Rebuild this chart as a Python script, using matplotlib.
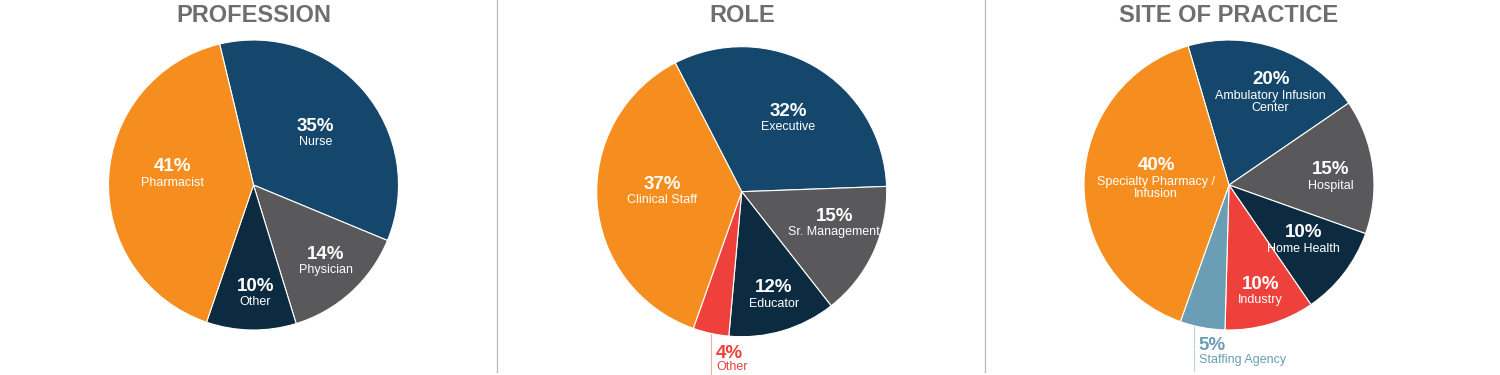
import numpy as np
import matplotlib.pyplot as plt
from matplotlib.lines import Line2D

plt.rcParams['font.family'] = ['Liberation Sans', 'DejaVu Sans']

FIG_W, FIG_H = 1500, 375
R_PX = 145          # pie radius in pixels
AX_PX = 330         # square axes size in pixels

ORANGE = '#F58E1F'
BLUE = '#15476C'
GRAY = '#59595B'
NAVY = '#0C2B40'
RED = '#EF413B'
LIGHTBLUE = '#6A9EB4'
TITLE_GRAY = '#6D6E71'

# ---- data ----
profession_labels = ['Nurse', 'Physician', 'Other', 'Pharmacist']
profession_values = [35, 14, 10, 41]

role_labels = ['Executive', 'Sr. Management', 'Educator', 'Other', 'Clinical Staff']
role_values = [32, 15, 12, 4, 37]

site_labels = ['Ambulatory Infusion\nCenter', 'Hospital', 'Home Health',
               'Industry', 'Staffing Agency', 'Specialty Pharmacy /\nInfusion']
site_values = [20, 15, 10, 10, 5, 40]

# ---- layout / style ----
profession_colors = [BLUE, GRAY, NAVY, ORANGE]
role_colors = [BLUE, GRAY, NAVY, RED, ORANGE]
site_colors = [BLUE, GRAY, NAVY, RED, LIGHTBLUE, ORANGE]

# per slice: (clockwise angle nudge in degrees, label radius, outside?)
profession_tweaks = [(-3, 0.59, False), (-4, 0.69, False), (-2, 0.70, False), (10, 0.57, False)]
role_tweaks = [(0, 0.64, False), (-10, 0.66, False), (-2, 0.70, False), (0, 1.0, True), (9, 0.55, False)]
site_tweaks = [(2, 0.78, False), (-1, 0.71, False), (-5, 0.61, False), (-1, 0.72, False),
               (3.5, 1.0, True), (13, 0.52, False)]


def draw_pie(fig, title, labels, values, colors, center, start, tweaks):
    cx, cy = center
    half = AX_PX / 2
    ax = fig.add_axes([(cx - half) / FIG_W, 1 - (cy + half) / FIG_H, AX_PX / FIG_W, AX_PX / FIG_H])
    wedges, _ = ax.pie(values, colors=colors, startangle=90 + start, counterclock=False,
                       wedgeprops=dict(edgecolor='white', linewidth=0.8))
    lim = half / R_PX
    ax.set_xlim(-lim, lim)
    ax.set_ylim(-lim, lim)
    ax.set_aspect('equal')
    ax.axis('off')

    for w, lab, val, col, (nudge, r, outside) in zip(wedges, labels, values, colors, tweaks):
        ang = np.deg2rad((w.theta1 + w.theta2) / 2 - nudge)
        x, y = r * np.cos(ang), r * np.sin(ang)
        if outside:
            ax.plot([x, x], [y, y - 0.31], color=col, alpha=0.45, lw=0.8,
                    clip_on=False, zorder=0)
            ax.text(x + 0.035, y - 0.14, f'{val}%', color=col, fontsize=13.5,
                    fontweight='bold', ha='left', va='center')
            ax.text(x + 0.035, y - 0.235, lab, color=col, fontsize=9,
                    ha='left', va='center')
        else:
            ax.text(x, y, f'{val}%', color='white', fontsize=13.5,
                    fontweight='bold', ha='center', va='center')
            ax.text(x, y - 0.068, lab, color='white', fontsize=9,
                    ha='center', va='top', linespacing=1.05)

    fig.text(cx / FIG_W, 1 - 16 / FIG_H, title, color=TITLE_GRAY, fontsize=17,
             fontweight='bold', ha='center', va='center')


fig = plt.figure(figsize=(FIG_W / 100, FIG_H / 100), dpi=100)

draw_pie(fig, 'PROFESSION', profession_labels, profession_values, profession_colors,
         (253.5, 185), 13.5, profession_tweaks)
draw_pie(fig, 'ROLE', role_labels, role_values, role_colors,
         (741.7, 191.7), 27.3, role_tweaks)
draw_pie(fig, 'SITE OF PRACTICE', site_labels, site_values, site_colors,
         (1229, 185), 16.4, site_tweaks)

for xs in (497, 985):
    fig.add_artist(Line2D([xs / FIG_W, xs / FIG_W], [1 - 372 / FIG_H, 1],
                          transform=fig.transFigure, color='#BDBDBD', lw=1))

fig.savefig('out.png', dpi=100)
